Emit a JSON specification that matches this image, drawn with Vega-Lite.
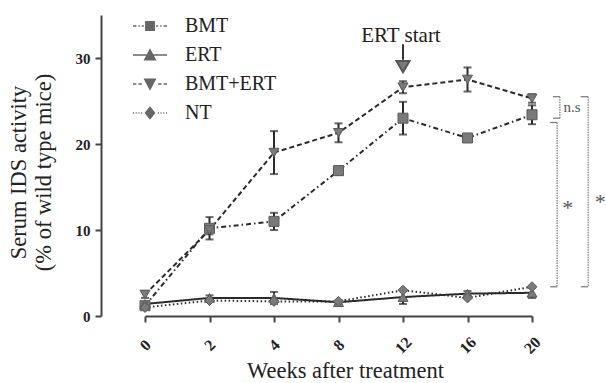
{
  "$schema": "https://vega.github.io/schema/vega-lite/v6.json",
  "width": 464,
  "height": 301,
  "autosize": "none",
  "padding": {"left": 101, "top": 15, "right": 41, "bottom": 67},
  "background": "white",
  "config": {
    "view": {"stroke": null},
    "font": "Liberation Serif",
    "axis": {"grid": false, "domainColor": "#444", "domainWidth": 2, "tickColor": "#444", "tickWidth": 2, "labelFont": "Liberation Serif", "titleFont": "Liberation Serif", "labelColor": "#222", "titleColor": "#222"}
  },
  "datasets": {
    "series": [
      {"week": "0", "group": "BMT", "mean": 1.2, "err": 0},
      {"week": "2", "group": "BMT", "mean": 10.2, "err": 1.3},
      {"week": "4", "group": "BMT", "mean": 11.0, "err": 1.0},
      {"week": "8", "group": "BMT", "mean": 16.9, "err": 0.5},
      {"week": "12", "group": "BMT", "mean": 23.0, "err": 1.9},
      {"week": "16", "group": "BMT", "mean": 20.7, "err": 0.4},
      {"week": "20", "group": "BMT", "mean": 23.4, "err": 1.1},
      {"week": "0", "group": "ERT", "mean": 1.4, "err": 0},
      {"week": "2", "group": "ERT", "mean": 2.1, "err": 0.3},
      {"week": "4", "group": "ERT", "mean": 2.1, "err": 0.7},
      {"week": "8", "group": "ERT", "mean": 1.6, "err": 0.2},
      {"week": "12", "group": "ERT", "mean": 2.2, "err": 0.8},
      {"week": "16", "group": "ERT", "mean": 2.6, "err": 0.3},
      {"week": "20", "group": "ERT", "mean": 2.7, "err": 0.6},
      {"week": "0", "group": "BMT+ERT", "mean": 2.5, "err": 0.4},
      {"week": "2", "group": "BMT+ERT", "mean": 10.0, "err": 0.5},
      {"week": "4", "group": "BMT+ERT", "mean": 19.0, "err": 2.5},
      {"week": "8", "group": "BMT+ERT", "mean": 21.3, "err": 1.1},
      {"week": "12", "group": "BMT+ERT", "mean": 26.6, "err": 0.7},
      {"week": "16", "group": "BMT+ERT", "mean": 27.5, "err": 1.4},
      {"week": "20", "group": "BMT+ERT", "mean": 25.3, "err": 0.5},
      {"week": "0", "group": "NT", "mean": 1.0, "err": 0},
      {"week": "2", "group": "NT", "mean": 1.8, "err": 0},
      {"week": "4", "group": "NT", "mean": 1.7, "err": 0},
      {"week": "8", "group": "NT", "mean": 1.7, "err": 0},
      {"week": "12", "group": "NT", "mean": 3.0, "err": 0},
      {"week": "16", "group": "NT", "mean": 2.1, "err": 0},
      {"week": "20", "group": "NT", "mean": 3.4, "err": 0}
    ],
    "arrow": [
      {"week": "12", "label": "ERT start", "ytext": 32.6, "ytop": 31.6, "ybot": 29.8, "yhead": 29.0}
    ],
    "brackets": [
      {"id": "ns", "xa": 0.974, "xb": 0.989, "ytop": 25.5, "ybot": 23.0},
      {"id": "s1", "xa": 0.968, "xb": 0.983, "ytop": 22.5, "ybot": 3.4},
      {"id": "s2", "xa": 1.034, "xb": 1.05, "ytop": 25.5, "ybot": 3.4}
    ],
    "bracketLabels": [
      {"label": "n.s", "xp": 1.015, "yp": 24.3, "size": 15},
      {"label": "*", "xp": 1.006, "yp": 12.6, "size": 22},
      {"label": "*", "xp": 1.076, "yp": 13.2, "size": 22}
    ]
  },
  "layer": [
    {
      "data": {"name": "series"},
      "mark": {"type": "line", "stroke": "#2a2a2a", "strokeWidth": 2},
      "encoding": {
        "x": {"field": "week", "type": "ordinal", "scale": {"type": "point", "domain": ["0", "2", "4", "8", "12", "16", "20"], "range": [44, 431], "padding": 0},
          "axis": {"title": "Weeks after treatment", "titleFontSize": 22.5, "titleFontWeight": "normal", "titleX": 244, "titleY": 61, "titleBaseline": "alphabetic", "titleAlign": "center", "labelAngle": -45, "labelAlign": "center", "labelBaseline": "middle", "labelPadding": 23, "labelFontSize": 16, "labelFontWeight": "bold", "tickSize": 6}},
        "y": {"field": "mean", "type": "quantitative", "scale": {"domain": [0, 35], "nice": false},
          "axis": {"values": [0, 10, 20, 30], "title": ["Serum IDS activity", "(% of wild type mice)"], "titleFontSize": 22.5, "titleFontWeight": "normal", "titleLineHeight": 25, "titleAngle": -90, "titleX": -76, "titleY": 157, "titleBaseline": "alphabetic", "titleAlign": "center", "labelFontSize": 15, "labelFontWeight": "bold", "tickSize": 6, "labelPadding": 5}},
        "detail": {"field": "group"},
        "strokeDash": {"field": "group", "type": "nominal", "scale": {"domain": ["BMT", "ERT", "BMT+ERT", "NT"], "range": [[5, 3, 1.5, 3], [1, 0], [5, 3], [1.5, 2.5]]}, "legend": null}
      }
    },
    {
      "data": {"name": "series"},
      "transform": [{"filter": "datum.err > 0"}],
      "mark": {"type": "errorbar", "ticks": {"size": 8, "thickness": 2, "color": "#2a2a2a"}, "rule": {"strokeWidth": 2, "color": "#2a2a2a"}},
      "encoding": {
        "x": {"field": "week", "type": "ordinal", "scale": {"type": "point", "domain": ["0", "2", "4", "8", "12", "16", "20"], "range": [44, 431], "padding": 0}, "axis": null},
        "y": {"field": "mean", "type": "quantitative", "axis": null},
        "yError": {"field": "err"}
      }
    },
    {
      "data": {"name": "series"},
      "mark": {"type": "point", "filled": true, "fill": "#7a7a7a", "stroke": "#5a5a5a", "strokeWidth": 1, "size": 100, "opacity": 1},
      "encoding": {
        "x": {"field": "week", "type": "ordinal", "scale": {"type": "point", "domain": ["0", "2", "4", "8", "12", "16", "20"], "range": [44, 431], "padding": 0}, "axis": null},
        "y": {"field": "mean", "type": "quantitative", "axis": null},
        "shape": {"field": "group", "type": "nominal", "scale": {"domain": ["BMT", "ERT", "BMT+ERT", "NT"], "range": ["square", "triangle-up", "triangle-down", "diamond"]}, "legend": null}
      }
    },
    {
      "data": {"name": "series"},
      "mark": {"type": "point", "filled": true, "fill": "#666666", "size": 0, "opacity": 1},
      "encoding": {
        "x": {"field": "week", "type": "ordinal", "scale": {"type": "point", "domain": ["0", "2", "4", "8", "12", "16", "20"], "range": [44, 431], "padding": 0}, "axis": null},
        "y": {"field": "mean", "type": "quantitative", "axis": null},
        "shape": {"field": "group", "type": "nominal",
          "scale": {"domain": ["BMT", "ERT", "BMT+ERT", "NT"], "range": [
            "M-1,-0.05H-0.8V0.05H-1ZM-0.68,-0.05H-0.6V0.05H-0.68ZM-0.48,-0.05H-0.36V0.05H-0.48ZM0.36,-0.05H0.48V0.05H0.36ZM0.6,-0.05H0.68V0.05H0.6ZM0.8,-0.05H1V0.05H0.8ZM-0.29,-0.29H0.29V0.29H-0.29Z",
            "M-1,-0.05H1V0.05H-1ZM0,-0.4L0.38,0.32H-0.38Z",
            "M-1,-0.05H-0.8V0.05H-1ZM-0.68,-0.05H-0.48V0.05H-0.68ZM0.48,-0.05H0.68V0.05H0.48ZM0.8,-0.05H1V0.05H0.8ZM-0.38,-0.32H0.38L0,0.4Z",
            "M-1,-0.05H-0.94V0.05H-1ZM-0.84,-0.05H-0.78V0.05H-0.84ZM-0.68,-0.05H-0.62V0.05H-0.68ZM-0.52,-0.05H-0.46V0.05H-0.52ZM0.46,-0.05H0.52V0.05H0.46ZM0.62,-0.05H0.68V0.05H0.62ZM0.78,-0.05H0.84V0.05H0.78ZM0.94,-0.05H1V0.05H0.94ZM0,-0.4L0.32,0L0,0.4L-0.32,0Z"
          ]},
          "legend": {"title": null, "orient": "none", "legendX": 32, "legendY": -6, "padding": 0, "symbolSize": 1156, "symbolStrokeWidth": 0, "symbolFillColor": "#666666", "symbolOpacity": 1, "labelFont": "Liberation Serif", "labelFontSize": 20, "labelColor": "#222", "labelOffset": 18, "rowPadding": 2}}
      }
    },
    {
      "data": {"name": "arrow"},
      "mark": {"type": "text", "fontSize": 21, "font": "Liberation Serif", "color": "#222", "dx": -2, "baseline": "middle"},
      "encoding": {"x": {"field": "week", "type": "ordinal", "scale": {"type": "point", "domain": ["0", "2", "4", "8", "12", "16", "20"], "range": [44, 431], "padding": 0}, "axis": null}, "y": {"field": "ytext", "type": "quantitative", "axis": null}, "text": {"field": "label"}}
    },
    {
      "data": {"name": "arrow"},
      "mark": {"type": "rule", "strokeWidth": 2, "color": "#333"},
      "encoding": {"x": {"field": "week", "type": "ordinal", "scale": {"type": "point", "domain": ["0", "2", "4", "8", "12", "16", "20"], "range": [44, 431], "padding": 0}, "axis": null}, "y": {"field": "ytop", "type": "quantitative", "axis": null}, "y2": {"field": "ybot"}}
    },
    {
      "data": {"name": "arrow"},
      "mark": {"type": "point", "shape": "triangle-down", "filled": true, "fill": "#7a7a7a", "stroke": "#555", "size": 170, "opacity": 1},
      "encoding": {"x": {"field": "week", "type": "ordinal", "scale": {"type": "point", "domain": ["0", "2", "4", "8", "12", "16", "20"], "range": [44, 431], "padding": 0}, "axis": null}, "y": {"field": "yhead", "type": "quantitative", "axis": null}}
    },
    {
      "data": {"name": "brackets"},
      "mark": {"type": "rule", "strokeWidth": 1.2, "color": "#777", "strokeDash": [1.5, 1]},
      "encoding": {"x": {"field": "xb", "type": "quantitative", "scale": {"domain": [0, 1], "nice": false, "zero": false}, "axis": null}, "y": {"field": "ytop", "type": "quantitative", "axis": null}, "y2": {"field": "ybot"}}
    },
    {
      "data": {"name": "brackets"},
      "mark": {"type": "rule", "strokeWidth": 1.2, "color": "#777"},
      "encoding": {"x": {"field": "xa", "type": "quantitative", "scale": {"domain": [0, 1], "nice": false, "zero": false}, "axis": null}, "x2": {"field": "xb"}, "y": {"field": "ytop", "type": "quantitative", "axis": null}}
    },
    {
      "data": {"name": "brackets"},
      "mark": {"type": "rule", "strokeWidth": 1.2, "color": "#777"},
      "encoding": {"x": {"field": "xa", "type": "quantitative", "scale": {"domain": [0, 1], "nice": false, "zero": false}, "axis": null}, "x2": {"field": "xb"}, "y": {"field": "ybot", "type": "quantitative", "axis": null}}
    },
    {
      "data": {"name": "bracketLabels"},
      "mark": {"type": "text", "font": "Liberation Serif", "color": "#555", "baseline": "middle", "align": "center"},
      "encoding": {"x": {"field": "xp", "type": "quantitative", "scale": {"domain": [0, 1], "nice": false, "zero": false}, "axis": null}, "y": {"field": "yp", "type": "quantitative", "axis": null}, "text": {"field": "label"}, "size": {"field": "size", "type": "quantitative", "scale": null}}
    }
  ],
  "resolve": {"scale": {"x": "independent", "shape": "independent"}, "axis": {"y": "independent"}}
}
